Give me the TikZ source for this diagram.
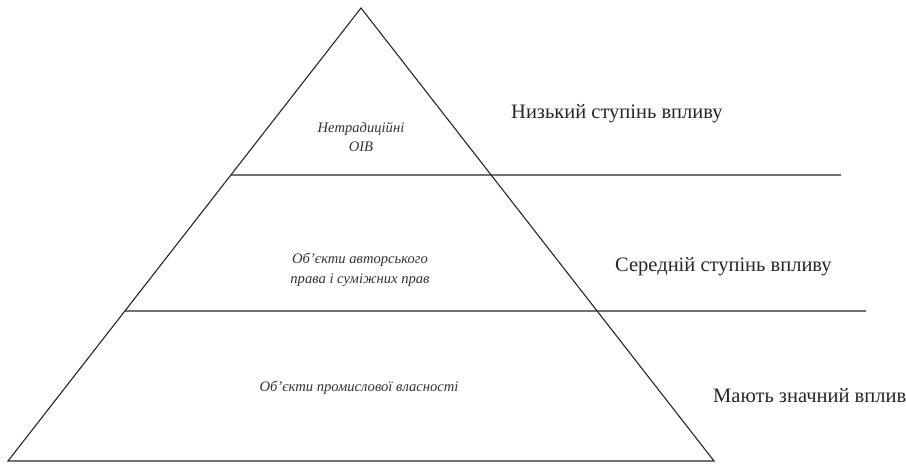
\documentclass[tikz,border=0pt]{standalone}
\usepackage{fontspec}
\setmainfont{Liberation Serif}
\usetikzlibrary{calc}
\begin{document}
\begin{tikzpicture}[x=1pt,y=-1pt,
  edge/.style={draw=black!85,line width=1.1pt},
  tier/.style={font=\fontsize{14.6}{19.5}\selectfont\itshape,text=black!80,align=center,inner sep=0pt},
  level/.style={font=\fontsize{20.5}{24}\selectfont,text=black!85,inner sep=0pt}]
\useasboundingbox (0,0) rectangle (906,466);
\coordinate (A) at (361,8);
\coordinate (L) at (8,461);
\coordinate (R) at (714,461);
\coordinate (h1a) at ($(L)!0.6313!(A)$);
\coordinate (h1b) at (841,175);
\coordinate (h2a) at ($(L)!0.3311!(A)$);
\coordinate (h2b) at (866,311);
\draw[edge,line join=miter] (L) -- (A) -- (R) -- cycle;
\draw[edge] (h1a) -- (h1b);
\draw[edge] (h2a) -- (h2b);
\node[tier] (t1) at (361,137) {Нетрадиційні\\OIB};
\node[tier] (t2) at (360,270) {Об'єкти авторського\\права і суміжних прав};
\node[tier] (t3) at (359,388) {Об'єкти промислової власності};
\node[level,anchor=west] (l1) at (511,114) {Низький ступінь впливу};
\node[level,anchor=west] (l2) at (615,267) {Середній ступінь впливу};
\node[level,anchor=west] (l3) at (713,396) {Мають значний вплив};
\end{tikzpicture}
\end{document}
